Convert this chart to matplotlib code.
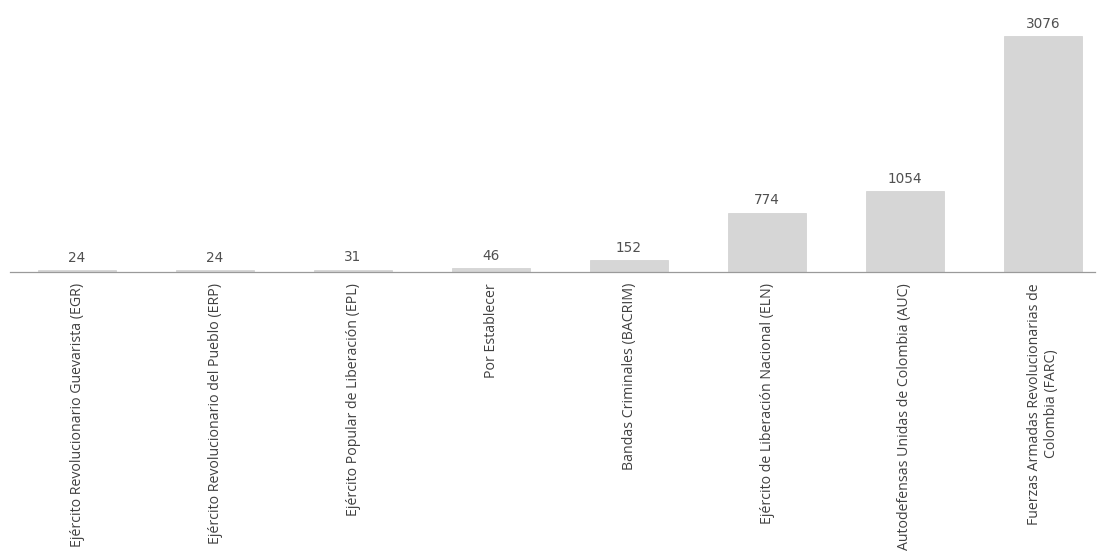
import matplotlib.pyplot as plt
from matplotlib import font_manager

grupos = [
    "Ejército Revolucionario Guevarista (EGR)",
    "Ejército Revolucionario del Pueblo (ERP)",
    "Ejército Popular de Liberación (EPL)",
    "Por Establecer",
    "Bandas Criminales (BACRIM)",
    "Ejército de Liberación Nacional (ELN)",
    "Autodefensas Unidas de Colombia (AUC)",
    "Fuerzas Armadas Revolucionarias de\nColombia (FARC)",
]
victimas = [24, 24, 31, 46, 152, 774, 1054, 3076]

names = {f.name for f in font_manager.fontManager.ttflist}
label_font = "Liberation Sans Narrow" if "Liberation Sans Narrow" in names else "Open Sans"

fig = plt.figure(figsize=(11.02, 5.56), dpi=100)
ax = fig.add_axes([10 / 1102, 284 / 556, 1085 / 1102, 272 / 556])

x = range(len(grupos))
ax.bar(x, victimas, width=0.56, color="#d6d6d6", edgecolor="#cfcfcf", linewidth=0.5)

for i, v in zip(x, victimas):
    ax.text(i, v + 70, str(v), ha="center", va="bottom", fontsize=9.8,
            color="#505050", family="DejaVu Sans")

ax.set_xlim(-0.486, 7.377)
ax.set_ylim(0, 3545)
ax.set_xticks(list(x))
fs = 11 if label_font == "Liberation Sans Narrow" else 10.2
ax.set_xticklabels(grupos, rotation=90, fontsize=fs, color="#404040",
                   family=label_font, ha="center", va="top", multialignment="center")
ax.tick_params(axis="x", length=0, pad=8)
ax.set_yticks([])
for s in ["top", "right", "left"]:
    ax.spines[s].set_visible(False)
ax.spines["bottom"].set_color("#9a9a9a")
ax.spines["bottom"].set_linewidth(0.9)

fig.savefig("out.png", dpi=100)
